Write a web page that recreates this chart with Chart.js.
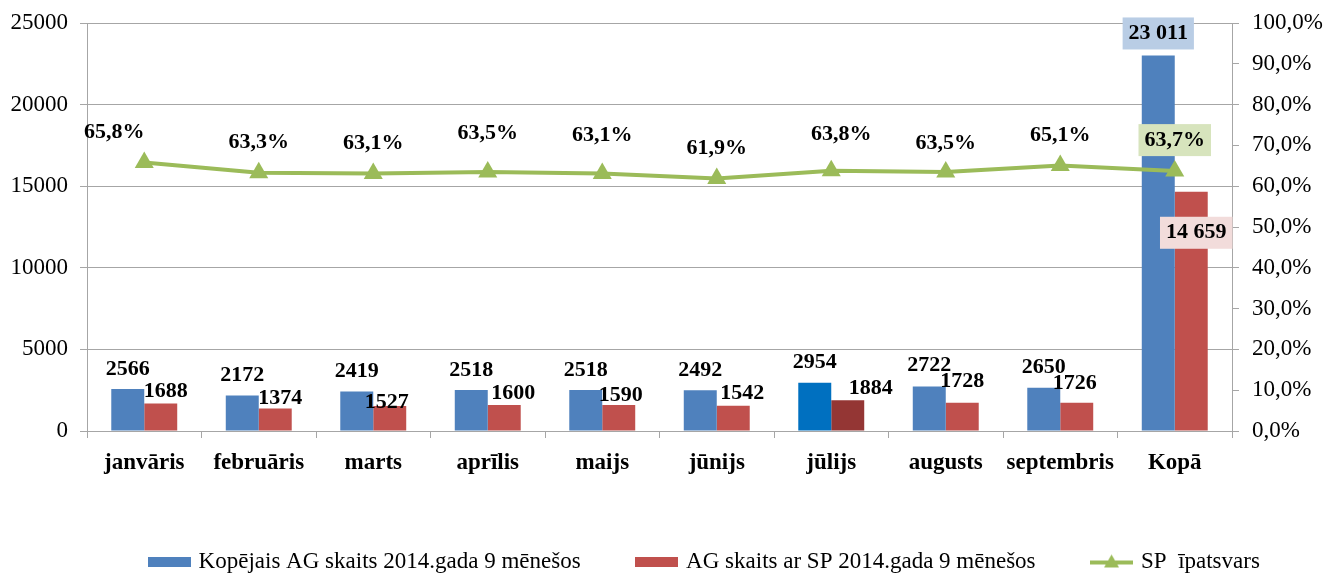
<!DOCTYPE html>
<html><head><meta charset="utf-8">
<script src="https://cdn.jsdelivr.net/npm/chart.js@4.4.1/dist/chart.umd.min.js"></script>
<style>html,body{margin:0;padding:0;background:#fff;overflow:hidden}</style>
</head><body>
<canvas id="c" width="1325" height="574"></canvas>
<script>
// ---- data ----
const categories = ['janvāris','februāris','marts','aprīlis','maijs','jūnijs','jūlijs','augusts','septembris','Kopā'];
const totalAG = [2566,2172,2419,2518,2518,2492,2954,2722,2650,23011];
const agWithSP = [1688,1374,1527,1600,1590,1542,1884,1728,1726,14659];
const spShare = [65.8,63.3,63.1,63.5,63.1,61.9,63.8,63.5,65.1,63.7];
const leftTickStep = 5000, leftMax = 25000;
const rightTickStep = 10, rightMax = 100;
const seriesNames = ['Kopējais AG skaits 2014.gada 9 mēnešos','AG skaits ar SP 2014.gada 9 mēnešos','SP  īpatsvars'];

// ---- styles ----
const BLUE = '#4F81BD', RED = '#C0504D', GREEN = '#9BBB59';
const blueColors = categories.map((c,i)=> i===6 ? '#0070C0' : BLUE);
const redColors = categories.map((c,i)=> i===6 ? '#943634' : RED);
const GRID = '#A6A6A6';
const SERIF = '"Liberation Serif", "Times New Roman", serif';
// label offsets (pixels relative to mark)
const blueLblDx = [0,0,0,0,0,0,0,0,0,0];
const blueLblDy = [-20,-20,-20,-20,-20,-20,-20,-21,-20,-22];
const redLblDx = [5,5,-3,9,2,9,23,0,-2,5];
const redLblDy = [-12,-10,-4,-12,-10,-13,-12,-21,-20,41];
const lineLblDx = [-30,0,0,0,0,0,10,0,0,0];
const lineLblDy = [-30,-30,-30,-39,-38,-30,-36,-29,-30,-31];
const blueLblBg = [null,null,null,null,null,null,null,null,null,'#B9CDE5'];
const redLblBg = [null,null,null,null,null,null,null,null,null,'#F2DCDB'];
const lineLblBg = [null,null,null,null,null,null,null,null,null,'#D7E4BD'];

function fmtCount(v){
  const s = String(v);
  return v >= 10000 ? s.replace(/\B(?=(\d{3})+(?!\d))/g,' ') : s;
}
function fmtPct(v){ return v.toFixed(1).replace('.',',') + '%'; }

function rectImg(color){
  const c = document.createElement('canvas'); c.width = 43; c.height = 10;
  const x = c.getContext('2d'); x.fillStyle = color; x.fillRect(0,0,43,10); return c;
}
function lineImg(){
  const c = document.createElement('canvas'); c.width = 43; c.height = 16;
  const x = c.getContext('2d');
  x.strokeStyle = GREEN; x.lineWidth = 4; x.beginPath(); x.moveTo(0,9); x.lineTo(43,9); x.stroke();
  x.fillStyle = GREEN; x.beginPath(); x.moveTo(21.5,1); x.lineTo(29,14); x.lineTo(14,14); x.closePath(); x.fill();
  return c;
}
const legendImgs = [rectImg(BLUE), rectImg(RED), lineImg()];

const labelPlugin = {
  id: 'valueLabels',
  afterDatasetsDraw(chart){
    const ctx = chart.ctx;
    ctx.save();
    ctx.font = 'bold 22px ' + SERIF;
    ctx.textAlign = 'center'; ctx.textBaseline = 'middle';
    const draw = (t, x, y, bg) => {
      if (bg){
        const w = ctx.measureText(t).width;
        ctx.fillStyle = bg; ctx.fillRect(x - w/2 - 6, y - 16, w + 12, 32);
      }
      ctx.fillStyle = '#000'; ctx.fillText(t, x, y);
    };
    chart.getDatasetMeta(1).data.forEach((el,i)=> draw(fmtCount(totalAG[i]), el.x + blueLblDx[i], el.y + blueLblDy[i], blueLblBg[i]));
    chart.getDatasetMeta(2).data.forEach((el,i)=> draw(fmtCount(agWithSP[i]), el.x + redLblDx[i], el.y + redLblDy[i], redLblBg[i]));
    chart.getDatasetMeta(0).data.forEach((el,i)=> draw(fmtPct(spShare[i]), el.x + lineLblDx[i], el.y + lineLblDy[i], lineLblBg[i]));
    ctx.restore();
  }
};

const legendShift = {
  id: 'legendShift',
  afterLayout(chart){
    const l = chart.legend;
    const dx = 43;
    l.left += dx; l.right += dx;
  }
};

new Chart(document.getElementById('c'), {
  data: {
    labels: categories,
    datasets: [
      { type:'line', label: seriesNames[2], data: spShare, yAxisID:'y1', order:0,
        borderColor: GREEN, borderWidth: 4, tension: 0,
        pointStyle:'triangle', pointRadius: 11, pointHoverRadius: 11,
        pointBackgroundColor: GREEN, pointBorderColor: GREEN, pointBorderWidth: 0 },
      { type:'bar', label: seriesNames[0], data: totalAG, yAxisID:'y', order:1,
        backgroundColor: blueColors, borderWidth: 0, barPercentage: 1.0, categoryPercentage: 0.576 },
      { type:'bar', label: seriesNames[1], data: agWithSP, yAxisID:'y', order:2,
        backgroundColor: redColors, borderWidth: 0, barPercentage: 1.0, categoryPercentage: 0.576 }
    ]
  },
  options: {
    responsive: false, animation: false, devicePixelRatio: 1,
    layout: { padding: { top: 23, left: 0, right: 0, bottom: 0 } },
    scales: {
      x: {
        offset: true,
        grid: { offset: true, drawOnChartArea: false, drawTicks: true, tickLength: 7, color: GRID },
        border: { display: true, color: GRID },
        ticks: { font: { family: SERIF, size: 23, weight: 'bold' }, color: '#000', padding: 11, maxRotation: 0, autoSkip: false },
        afterFit(s){ s.height = 61; }
      },
      y: {
        position: 'left', min: 0, max: leftMax,
        ticks: { stepSize: leftTickStep, font: { family: SERIF, size: 23 }, color: '#000', padding: 12,
                 callback: v => String(v) },
        grid: { color: GRID, tickLength: 7, drawTicks: true },
        border: { color: GRID },
        afterFit(s){ s.width = 87; s.paddingTop = 0; s.paddingBottom = 0; }
      },
      y1: {
        position: 'right', min: 0, max: rightMax,
        ticks: { stepSize: rightTickStep, font: { family: SERIF, size: 23 }, color: '#000', padding: 13,
                 callback: v => fmtPct(v) },
        grid: { drawOnChartArea: false, tickLength: 7, color: GRID },
        border: { color: GRID },
        afterFit(s){ s.width = 93; s.paddingTop = 0; s.paddingBottom = 0; }
      }
    },
    plugins: {
      tooltip: { enabled: false },
      legend: {
        position: 'bottom', maxHeight: 82,
        labels: {
          usePointStyle: true, pointStyleWidth: 36, boxHeight: 16, padding: 58,
          font: { family: SERIF, size: 23 }, color: '#000',
          generateLabels(){
            return [0,1,2].map(i => ({
              text: seriesNames[i], pointStyle: legendImgs[i], fillStyle: [BLUE,RED,GREEN][i],
              strokeStyle: 'transparent', lineWidth: 0, hidden: false, fontColor: '#000',
              datasetIndex: [1,2,0][i]
            }));
          }
        }
      }
    }
  },
  plugins: [labelPlugin, legendShift]
});
</script>
</body></html>
